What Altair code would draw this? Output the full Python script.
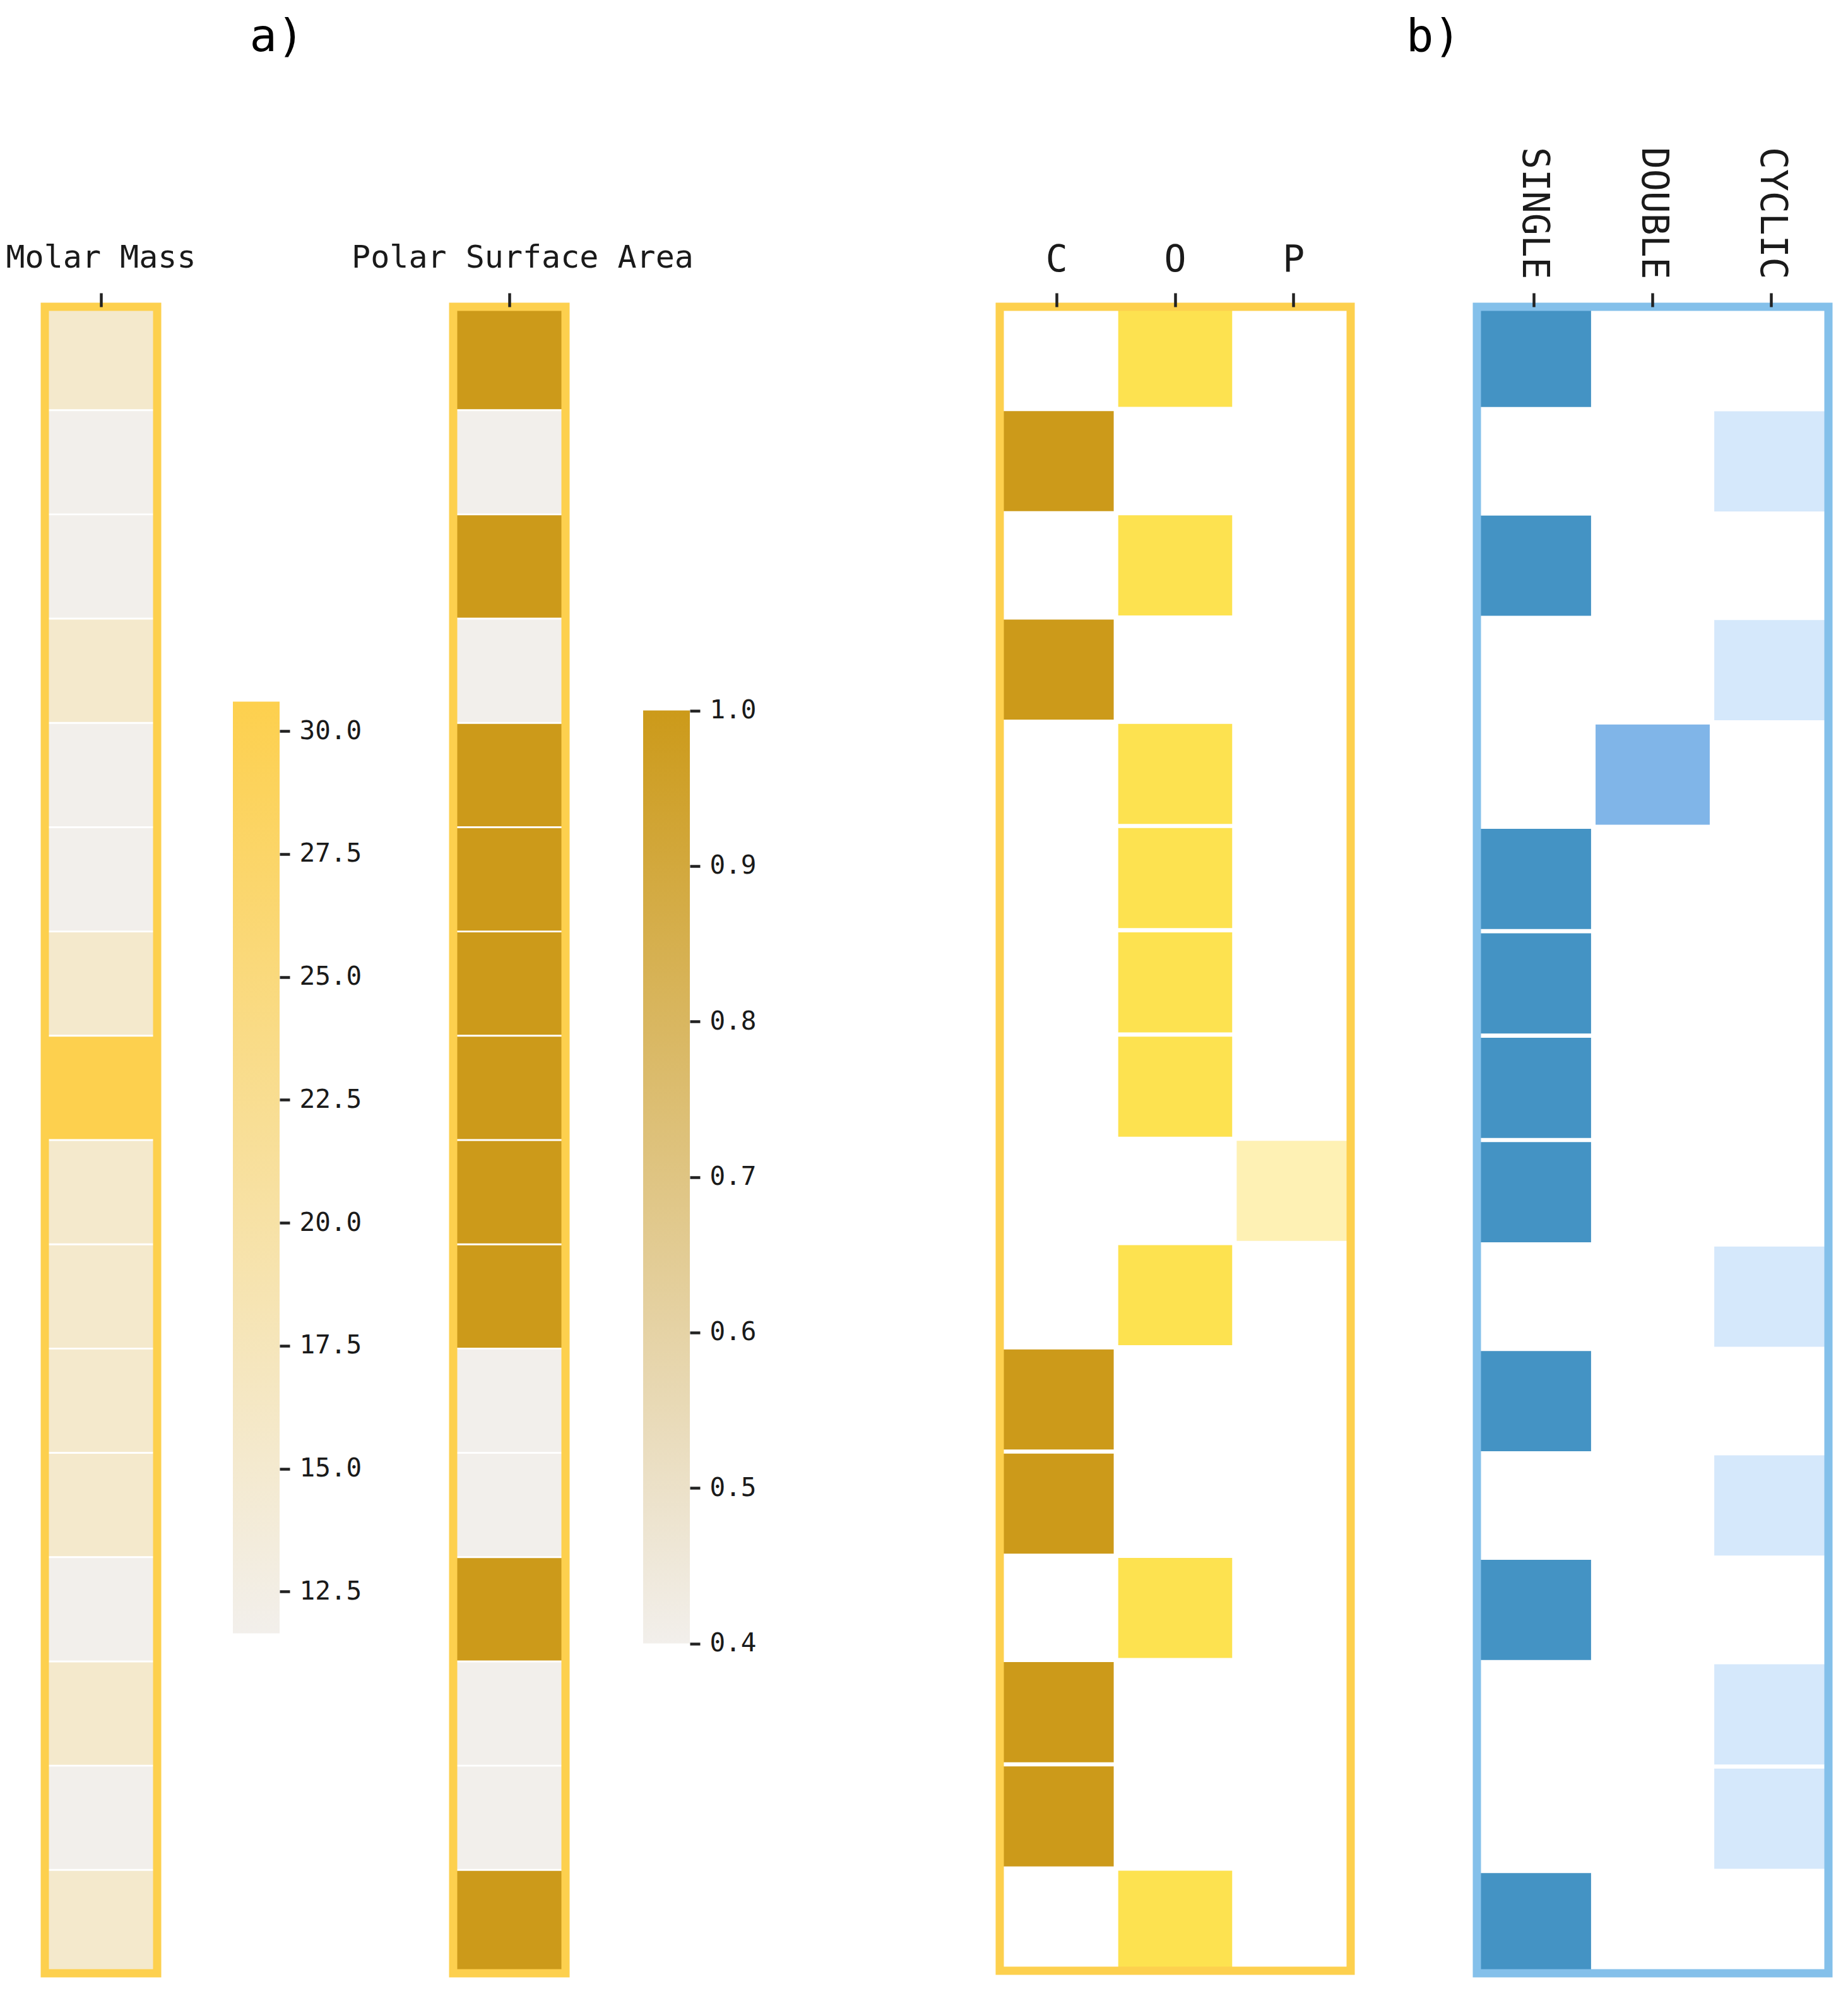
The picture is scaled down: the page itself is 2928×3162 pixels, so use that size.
import altair as alt
import pandas as pd

FONT = "DejaVu Sans Mono"

# ---------------- data ----------------
rows = list(range(1, 17))
molar_mass = [15.45, 11.65, 11.65, 15.45, 11.65, 11.65, 15.45, 30.6,
              15.45, 15.45, 15.45, 15.45, 11.65, 15.45, 11.65, 15.45]
polar_surface_area = [1.0, 0.4, 1.0, 0.4, 1.0, 1.0, 1.0, 1.0,
                      1.0, 1.0, 0.4, 0.4, 1.0, 0.4, 0.4, 1.0]
atom_types = ["C", "O", "P"]
atoms = ["O", "C", "O", "C", "O", "O", "O", "O",
         "P", "O", "C", "C", "O", "C", "C", "O"]
bond_types = ["SINGLE", "DOUBLE", "CYCLIC"]
bonds = ["SINGLE", "CYCLIC", "SINGLE", "CYCLIC", "DOUBLE", "SINGLE", "SINGLE", "SINGLE",
         "SINGLE", "CYCLIC", "SINGLE", "CYCLIC", "SINGLE", "CYCLIC", "CYCLIC", "SINGLE"]
molar_ticks = [12.5, 15.0, 17.5, 20.0, 22.5, 25.0, 27.5, 30.0]
psa_ticks = [0.4, 0.5, 0.6, 0.7, 0.8, 0.9, 1.0]

# ---------------- colours ----------------
LIGHT = "#f2efeb"
MM_HIGH = "#fdd04e"
PSA_HIGH = "#cc9a1a"
ATOM_COLORS = ["#cc9a1a", "#fde250", "#fef1b4"]
BOND_COLORS = ["#4493c4", "#80b5e8", "#d5e8fb"]
YELLOW_BORDER = "#fdd04e"
BLUE_BORDER = "#84c0ea"
TEXT = "#1a1a1a"

mm_lo, mm_hi = min(molar_mass), max(molar_mass)
psa_lo, psa_hi = min(polar_surface_area), max(polar_surface_area)

PANEL_H = 2640


def frame(color):
    # outline drawn on top of the cells, spanning the whole view
    return alt.Chart(pd.DataFrame({"f": [0]})).mark_rect(
        filled=False, stroke=color, strokeWidth=13
    ).encode(x=alt.value(0), x2=alt.value("width"),
             y=alt.value(0), y2=alt.value("height"))


def top_axis(size, pad, angle=0, align="center", baseline="alphabetic", offset=0):
    return alt.Axis(orient="top", labelAngle=angle, labelAlign=align,
                    labelBaseline=baseline, labelFontSize=size,
                    labelPadding=pad, tickSize=22, labelLimit=2000,
                    labelOffset=offset, labelOverlap=False)


def column_heatmap(name, values, lo, hi, high, width, height, label_offset=0, title=None):
    df = pd.DataFrame({"row": rows, "feature": [name] * len(rows), "value": values})
    cells = alt.Chart(df).mark_rect().encode(
        x=alt.X("feature:N", title=None,
                scale=alt.Scale(paddingInner=0, paddingOuter=0),
                axis=top_axis(50, 40.5, offset=label_offset)),
        y=alt.Y("row:O", axis=None,
                scale=alt.Scale(domain=rows, paddingInner=0.018, paddingOuter=0)),
        color=alt.Color("value:Q", legend=None,
                        scale=alt.Scale(domain=[lo, hi], range=[LIGHT, high],
                                        interpolate="rgb")),
    )
    props = dict(width=width, height=height)
    if title is not None:
        props["title"] = title
    return alt.layer(cells, frame(YELLOW_BORDER)).properties(**props)


def colorbar(lo, hi, high, ticks, rng, height):
    df = pd.DataFrame({"lo": [lo], "hi": [hi]})
    grad = alt.LinearGradient(
        gradient="linear",
        stops=[alt.GradientStop(color=LIGHT, offset=0),
               alt.GradientStop(color=high, offset=1)],
        x1=0, x2=0, y1=1, y2=0)
    return alt.Chart(df).mark_rect(fill=grad).encode(
        y=alt.Y("lo:Q", title=None,
                scale=alt.Scale(domain=[lo, hi], range=rng, nice=False, zero=False),
                axis=alt.Axis(orient="right", values=ticks, format=".1f",
                              tickSize=16, labelPadding=15, labelFontSize=41,
                              domain=False, grid=False, labelBaseline="middle")),
        y2="hi:Q",
        x=alt.value(0),
        x2=alt.value("width"),
    ).properties(width=74, height=height)


def spacer(w):
    return alt.Chart(pd.DataFrame({"s": [0]})).mark_point(opacity=0).encode(
        x=alt.value(0), y=alt.value(0)).properties(width=w, height=1)


title_a = alt.TitleParams(text="a)", anchor="start", frame="group", dx=324.5,
                          offset=231, fontSize=72, font=FONT, fontWeight="normal",
                          baseline="alphabetic", color="#000000")
title_b = alt.TitleParams(text="b)", anchor="start", frame="group", dx=644,
                          offset=231, fontSize=72, font=FONT, fontWeight="normal",
                          baseline="alphabetic", color="#000000")

molar = column_heatmap("Molar Mass", molar_mass, mm_lo, mm_hi, MM_HIGH, 178, PANEL_H,
                       title=title_a)
cb1 = colorbar(mm_lo, mm_hi, MM_HIGH, molar_ticks, [2101.5, 625.5], PANEL_H)
psa = column_heatmap("Polar Surface Area", polar_surface_area, psa_lo, psa_hi, PSA_HIGH,
                     178, PANEL_H, label_offset=21)
cb2 = colorbar(psa_lo, psa_hi, PSA_HIGH, psa_ticks, [2117.5, 639.5], PANEL_H)

atom_df = pd.DataFrame({"row": rows, "atom": atoms})
atom_cells = alt.Chart(atom_df).mark_rect().encode(
    x=alt.X("atom:N", title=None,
            scale=alt.Scale(domain=atom_types, paddingInner=0.038, paddingOuter=0),
            axis=top_axis(58, 34.5)),
    y=alt.Y("row:O", axis=None,
            scale=alt.Scale(domain=rows, paddingInner=0.04, paddingOuter=0)),
    color=alt.Color("atom:N", legend=None,
                    scale=alt.Scale(domain=atom_types, range=ATOM_COLORS)),
)
atom_chart = alt.layer(atom_cells, frame(YELLOW_BORDER)).properties(
    width=556, height=PANEL_H - 4, title=title_b)

bond_df = pd.DataFrame({"row": rows, "bond": bonds})
bond_cells = alt.Chart(bond_df).mark_rect().encode(
    x=alt.X("bond:N", title=None,
            scale=alt.Scale(domain=bond_types, paddingInner=0.038, paddingOuter=0),
            axis=top_axis(58, 22, angle=90, align="right", baseline="middle")),
    y=alt.Y("row:O", axis=None,
            scale=alt.Scale(domain=rows, paddingInner=0.04, paddingOuter=0)),
    color=alt.Color("bond:N", legend=None,
                    scale=alt.Scale(domain=bond_types, range=BOND_COLORS)),
)
bond_chart = alt.layer(bond_cells, frame(BLUE_BORDER)).properties(width=557, height=PANEL_H)

chart = alt.hconcat(
    molar, spacer(119.5), cb1, spacer(274.5), psa, spacer(122.5), cb2,
    spacer(490.5), atom_chart, spacer(200), bond_chart,
    spacing=0, bounds="flush",
    padding={"left": 0, "top": 14, "right": 0, "bottom": 0},
).configure_view(
    stroke="transparent"
).configure_axis(
    labelFont=FONT, labelColor=TEXT, tickColor="#222222", tickWidth=4.5,
    domain=False, grid=False,
).configure_title(font=FONT)

chart.save("out.html", embed_options={"renderer": "svg", "actions": False})
